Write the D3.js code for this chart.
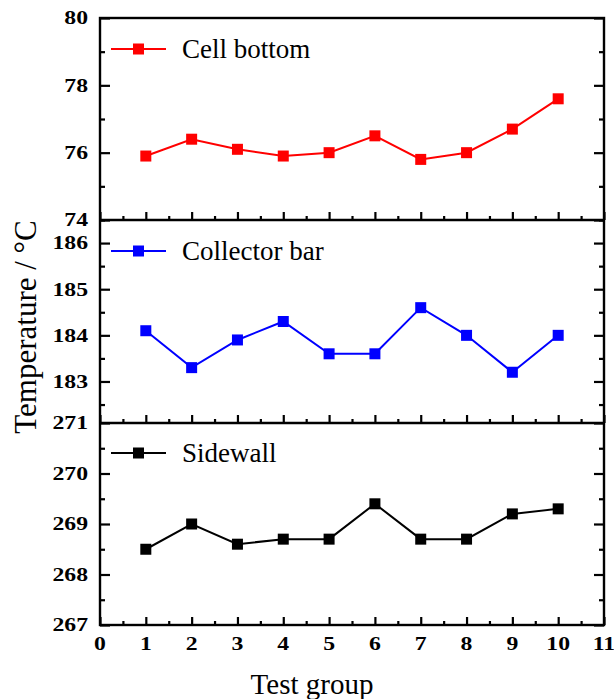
<!DOCTYPE html>
<html><head><meta charset="utf-8">
<script src="https://cdn.jsdelivr.net/npm/d3@7"></script>
<style>body{margin:0;background:#fff}svg{display:block}text{font-family:"Liberation Serif","Times New Roman",serif}</style>
</head><body><svg id="c" width="614" height="699"></svg>
<script>
const groups = [1,2,3,4,5,6,7,8,9,10];
const cellBottom = [75.9,76.4,76.1,75.9,76.0,76.5,75.8,76.0,76.7,77.6];
const collectorBar = [184.1,183.3,183.9,184.3,183.6,183.6,184.6,184.0,183.2,184.0];
const sidewall = [268.5,269.0,268.6,268.7,268.7,269.4,268.7,268.7,269.2,269.3];
const xTicks = [0,1,2,3,4,5,6,7,8,9,10,11];

const panels = [
  {name:"Cell bottom", values:cellBottom, color:"#ff0000", domain:[74,80], major:[74,76,78,80], minor:[75,77,79], top:18, bottom:220},
  {name:"Collector bar", values:collectorBar, color:"#0000ff", domain:[182.1,186.5], major:[183,184,185,186], minor:[182.5,183.5,184.5,185.5,186.5], top:220, bottom:423},
  {name:"Sidewall", values:sidewall, color:"#000000", domain:[267,271], major:[267,268,269,270,271], minor:[267.5,268.5,269.5,270.5], top:423, bottom:625}
];

const svg = d3.select("#c");
const L = 100, R = 604;
const x = d3.scaleLinear().domain([0,11]).range([L,R]);
const xMinor = d3.range(0.5,11,1);
const SX = 1.32;

function styleAxis(sel){
  sel.select(".domain").remove();
  sel.selectAll(".tick text").remove();
  sel.selectAll(".tick line").attr("stroke","#000").attr("stroke-width",2.2);
}

panels.forEach((p,i)=>{
  const y = d3.scaleLinear().domain(p.domain).range([p.bottom,p.top]);
  const g = svg.append("g");
  g.append("g").attr("transform",`translate(${L},0)`)
    .call(d3.axisRight(y).tickValues(p.major).tickSize(10)).call(styleAxis);
  g.append("g").attr("transform",`translate(${L},0)`)
    .call(d3.axisRight(y).tickValues(p.minor).tickSize(5)).call(styleAxis);
  g.append("g").attr("transform",`translate(${R},0)`)
    .call(d3.axisLeft(y).tickValues(p.major).tickSize(10)).call(styleAxis);
  g.append("g").attr("transform",`translate(${R},0)`)
    .call(d3.axisLeft(y).tickValues(p.minor).tickSize(5)).call(styleAxis);
  g.append("g").attr("transform",`translate(0,${p.bottom})`)
    .call(d3.axisTop(x).tickValues(xTicks).tickSize(8)).call(styleAxis);
  g.append("g").attr("transform",`translate(0,${p.bottom})`)
    .call(d3.axisTop(x).tickValues(xMinor).tickSize(4)).call(styleAxis);
  // y tick labels
  g.selectAll("text.yl").data(p.major).join("text").attr("class","yl")
    .attr("transform",d=>`translate(${L-12},${y(d)}) scale(${SX},1)`).attr("dy","0.35em")
    .attr("text-anchor","end").attr("font-weight","bold").attr("font-size",18)
    .text(d=>d3.format("d")(d));
  // line
  const line = d3.line().x((d,j)=>x(groups[j])).y(d=>y(d));
  g.append("path").datum(p.values).attr("d",line).attr("fill","none")
    .attr("stroke",p.color).attr("stroke-width",2);
  const ms = 11;
  g.selectAll("rect.m").data(p.values).join("rect").attr("class","m")
    .attr("x",(d,j)=>x(groups[j])-ms/2).attr("y",d=>y(d)-ms/2)
    .attr("width",ms).attr("height",ms).attr("fill",p.color);
  // legend
  const ly = [49,251,453][i];
  const lg = g.append("g");
  lg.append("line").attr("x1",111).attr("x2",166).attr("y1",ly).attr("y2",ly)
    .attr("stroke",p.color).attr("stroke-width",2);
  lg.append("rect").attr("x",138.5-ms/2).attr("y",ly-ms/2).attr("width",ms).attr("height",ms).attr("fill",p.color);
  lg.append("text").attr("x",182).attr("y",ly).attr("dy","0.35em").attr("font-size",27).text(p.name);
});

// frame
svg.append("rect").attr("x",L).attr("y",18).attr("width",R-L).attr("height",625-18)
  .attr("fill","none").attr("stroke","#000").attr("stroke-width",2.4);
[220,423].forEach(yy=>svg.append("line").attr("x1",L).attr("x2",R).attr("y1",yy).attr("y2",yy)
  .attr("stroke","#000").attr("stroke-width",2.4));

// x tick labels
svg.selectAll("text.xl").data(xTicks).join("text").attr("class","xl")
  .attr("transform",d=>`translate(${x(d)},644) scale(${SX},1)`).attr("dy","0.35em").attr("text-anchor","middle")
  .attr("font-weight","bold").attr("font-size",18).text(d=>d);

svg.append("text").attr("x",312).attr("y",684).attr("dy","0.35em").attr("text-anchor","middle")
  .attr("font-size",29).text("Test group");
svg.append("text").attr("transform","translate(25,327) rotate(-90)").attr("dy","0.35em")
  .attr("text-anchor","middle").attr("font-size",31).text("Temperature / °C");
</script></body></html>
